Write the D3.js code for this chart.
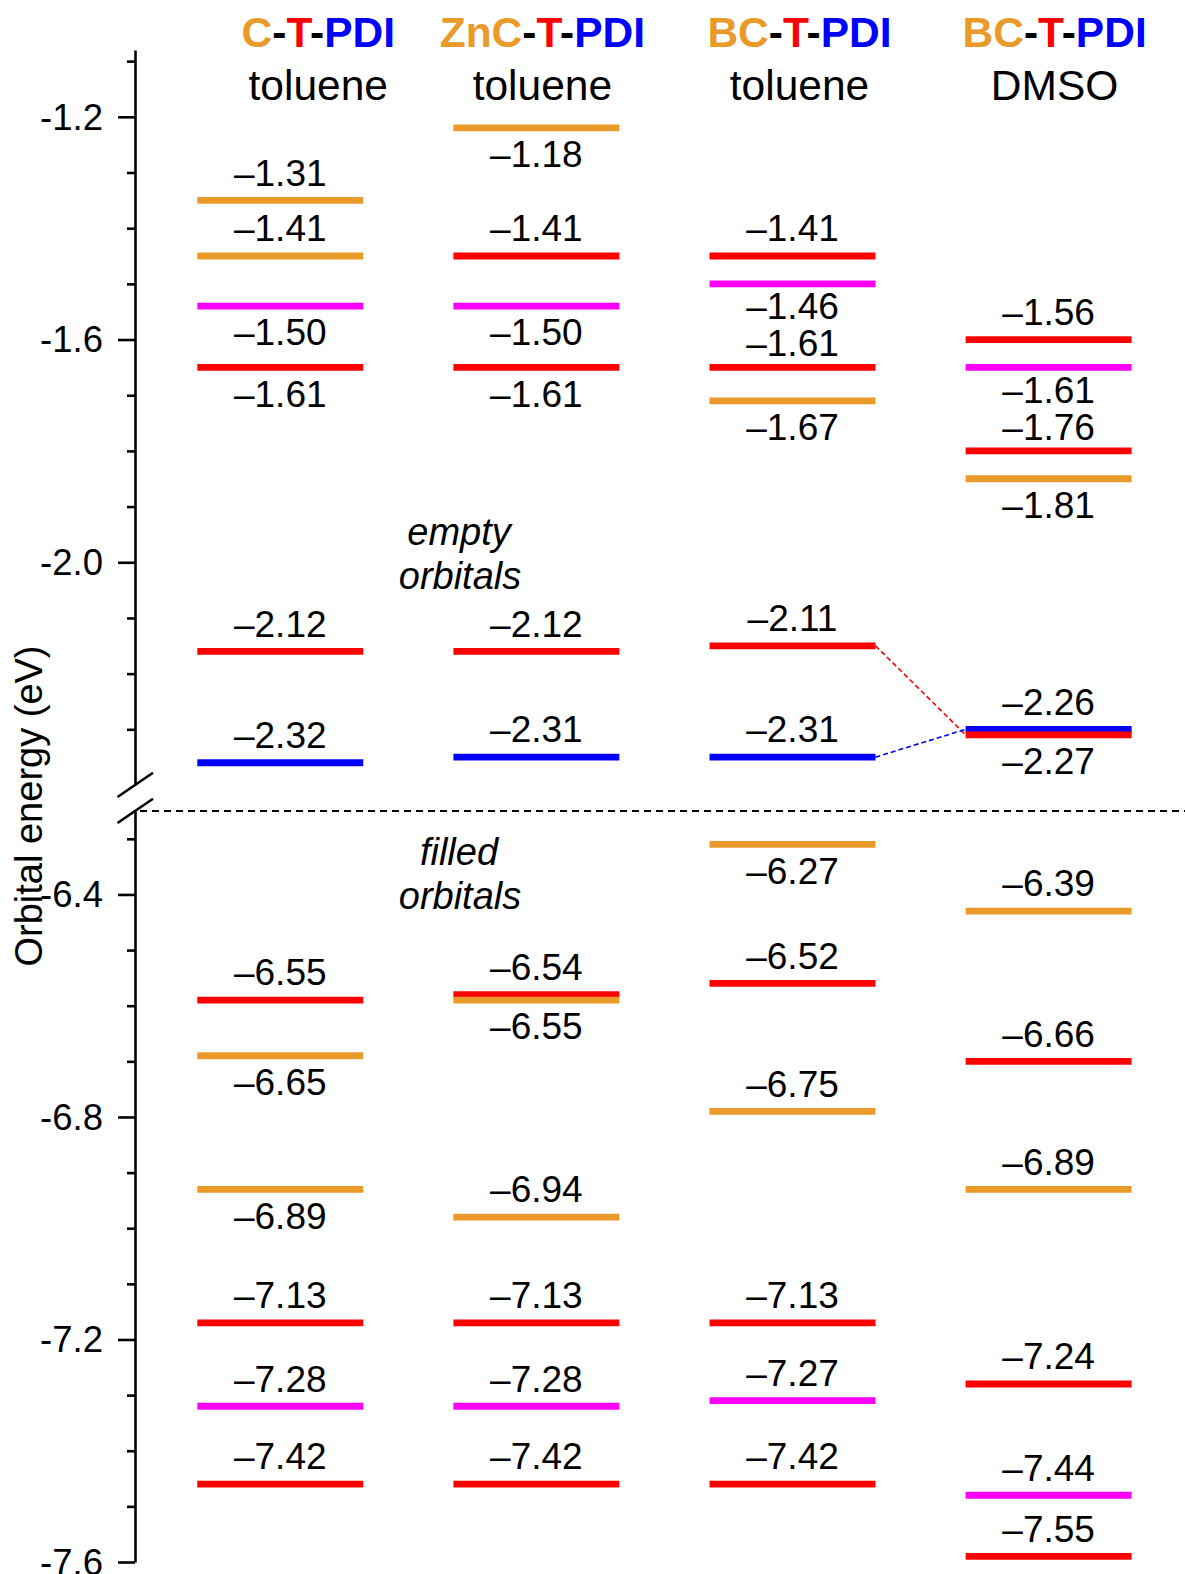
<!DOCTYPE html>
<html lang="en">
<head>
<meta charset="UTF-8">
<title>Orbital energies</title>
<script src="https://cdn.jsdelivr.net/npm/d3@7"></script>
<style type="text/css">
	body { margin: 0; background: #fff; }
	svg { font-family: 'Liberation Sans', Arial, sans-serif; }
	.axis path, .axis line { stroke: #000; stroke-width: 2.6px; fill: none; }
	.axis text { font-size: 36.5px; fill: #000; }
	.num { font-size: 37px; fill: #000; text-anchor: middle; }
	.head { font-size: 42.5px; text-anchor: middle; }
	.note { font-size: 38px; font-style: italic; text-anchor: middle; }
</style>
</head>
<body>
<script type="text/javascript">

// compounds (donor core - thiophene - PDI) and solvent
var donors = ['C', 'ZnC', 'BC', 'BC'];
var solvents = ['toluene', 'toluene', 'toluene', 'DMSO'];

// each level: [energy where the bar sits (eV), localisation, printed value, label above bar?]
var levelsCT = [
	[-1.35, 'C', '\u20131.31', 1],
	[-1.45, 'C', '\u20131.41', 1],
	[-1.54, 'M', '\u20131.50', 0],
	[-1.65, 'T', '\u20131.61', 0],
	[-2.16, 'T', '\u20132.12', 1],
	[-2.36, 'P', '\u20132.32', 1],
	[-6.59, 'T', '\u20136.55', 1],
	[-6.69, 'C', '\u20136.65', 0],
	[-6.93, 'C', '\u20136.89', 0],
	[-7.17, 'T', '\u20137.13', 1],
	[-7.32, 'M', '\u20137.28', 1],
	[-7.46, 'T', '\u20137.42', 1]
];
var levelsZnCT = [
	[-1.22, 'C', '\u20131.18', 0],
	[-1.45, 'T', '\u20131.41', 1],
	[-1.54, 'M', '\u20131.50', 0],
	[-1.65, 'T', '\u20131.61', 0],
	[-2.16, 'T', '\u20132.12', 1],
	[-2.35, 'P', '\u20132.31', 1],
	[-6.58, 'T', '\u20136.54', 1],
	[-6.59, 'C', '\u20136.55', 0],
	[-6.98, 'C', '\u20136.94', 1],
	[-7.17, 'T', '\u20137.13', 1],
	[-7.32, 'M', '\u20137.28', 1],
	[-7.46, 'T', '\u20137.42', 1]
];
var levelsBCT = [
	[-1.45, 'T', '\u20131.41', 1],
	[-1.50, 'M', '\u20131.46', 0],
	[-1.65, 'T', '\u20131.61', 1],
	[-1.71, 'C', '\u20131.67', 0],
	[-2.15, 'T', '\u20132.11', 1],
	[-2.35, 'P', '\u20132.31', 1],
	[-6.31, 'C', '\u20136.27', 0],
	[-6.56, 'T', '\u20136.52', 1],
	[-6.79, 'C', '\u20136.75', 1],
	[-7.17, 'T', '\u20137.13', 1],
	[-7.31, 'M', '\u20137.27', 1],
	[-7.46, 'T', '\u20137.42', 1]
];
var levelsBCTdmso = [
	[-1.60, 'T', '\u20131.56', 1],
	[-1.65, 'M', '\u20131.61', 0],
	[-1.80, 'T', '\u20131.76', 1],
	[-1.85, 'C', '\u20131.81', 0],
	[-2.30, 'P', '\u20132.26', 1],
	[-2.31, 'T', '\u20132.27', 0],
	[-6.43, 'C', '\u20136.39', 1],
	[-6.70, 'T', '\u20136.66', 1],
	[-6.93, 'C', '\u20136.89', 1],
	[-7.28, 'T', '\u20137.24', 1],
	[-7.48, 'M', '\u20137.44', 1],
	[-7.59, 'T', '\u20137.55', 1]
];
var levels = [levelsCT, levelsZnCT, levelsBCT, levelsBCTdmso];

// solvent shift of the LUMOs: [from column, energy, to column, energy, localisation]
var links = [
	[2, -2.15, 3, -2.31, 'T'],
	[2, -2.35, 3, -2.30, 'P']
];

// axis ticks (broken axis: upper and lower piece)
var topTicks = [-1.2, -1.6, -2.0];
var topMinor = [-1.1, -1.3, -1.4, -1.5, -1.7, -1.8, -1.9, -2.1, -2.2, -2.3];
var botTicks = [-6.4, -6.8, -7.2, -7.6];
var botMinor = [-6.3, -6.5, -6.6, -6.7, -6.9, -7.0, -7.1, -7.3, -7.4, -7.5];

var colors = { C: '#e99a2a', T: '#ff0000', P: '#0000ff', M: '#ff00ff' };
var headerShift = [38, 6, 7, 6];

var W = 1185, H = 1574, axisX = 135;

var svg = d3.select('body').append('svg')
	.attr('width', W).attr('height', H);

var yTop = d3.scaleLinear().domain([-1.08, -2.40]).range([50, 785]);
var yBot = d3.scaleLinear().domain([-6.25, -7.60]).range([811, 1562]);
var y = e => e > -4 ? yTop(e) : yBot(e);

var x = d3.scaleBand().domain(d3.range(4)).range([197.3, 1131.6]).paddingInner(0.352);

// axes
[[yTop, topTicks, topMinor], [yBot, botTicks, botMinor]].forEach(function(a) {
	svg.append('g')
		.attr('class', 'axis')
		.attr('transform', 'translate(' + axisX + ',0)')
		.call(d3.axisLeft(a[0]).tickValues(a[1]).tickSize(17).tickSizeOuter(0)
			.tickPadding(15).tickFormat(d => d.toFixed(1)));
	svg.append('g')
		.attr('class', 'axis')
		.attr('transform', 'translate(' + axisX + ',0)')
		.call(d3.axisLeft(a[0]).tickValues(a[2]).tickSize(8).tickSizeOuter(0).tickFormat(''))
		.select('.domain').remove();
});
svg.selectAll('.axis text').attr('dy', '0.34em');

// break marks
[yTop.range()[1], yBot.range()[0]].forEach(function(yy) {
	svg.append('line')
		.attr('x1', axisX - 17.5).attr('y1', yy + 12)
		.attr('x2', axisX + 18).attr('y2', yy - 12.3)
		.attr('stroke', '#000').attr('stroke-width', 2.6);
});

// HOMO/LUMO separation
svg.append('line')
	.attr('x1', axisX + 5).attr('x2', W)
	.attr('y1', yBot.range()[0]).attr('y2', yBot.range()[0])
	.attr('stroke', '#000').attr('stroke-width', 1.8)
	.attr('stroke-dasharray', '7,5');

svg.append('text')
	.attr('transform', 'translate(42,806) rotate(-90)')
	.attr('text-anchor', 'middle')
	.style('font-size', '38px')
	.text('Orbital energy (eV)');

// headers
donors.forEach(function(d, i) {
	var cx = x(i) + x.bandwidth() / 2 + headerShift[i];
	var t = svg.append('text').attr('class', 'head')
		.attr('x', cx).attr('y', 47).style('font-weight', 'bold');
	[[d, colors.C], ['-', '#000'], ['T', colors.T], ['-', '#000'], ['PDI', colors.P]]
		.forEach(p => t.append('tspan').attr('fill', p[1]).text(p[0]));
	svg.append('text').attr('class', 'head')
		.attr('x', cx).attr('y', 100).text(solvents[i]);
});

// notes
svg.append('text').attr('class', 'note').attr('x', 459).attr('y', 545).text('empty');
svg.append('text').attr('class', 'note').attr('x', 460).attr('y', 589).text('orbitals');
svg.append('text').attr('class', 'note').attr('x', 459).attr('y', 865).text('filled');
svg.append('text').attr('class', 'note').attr('x', 460).attr('y', 909).text('orbitals');

// connector lines
svg.selectAll('.link')
	.data(links)
	.enter().append('line')
	.attr('class', 'link')
	.attr('x1', d => x(d[0]) + x.bandwidth())
	.attr('y1', d => y(d[1]))
	.attr('x2', d => x(d[2]))
	.attr('y2', d => y(d[3]))
	.attr('stroke', d => colors[d[4]])
	.attr('stroke-width', 1.6)
	.attr('stroke-dasharray', '5,3');

// levels
levels.forEach(function(col, i) {
	var g = svg.append('g');
	g.selectAll('line')
		.data(col)
		.enter().append('line')
		.attr('x1', x(i)).attr('x2', x(i) + x.bandwidth())
		.attr('y1', d => y(d[0])).attr('y2', d => y(d[0]))
		.attr('stroke', d => colors[d[1]])
		.attr('stroke-width', 6.8);

	// label centres, squeezed toward their bars when two labels crowd
	var lab = col.map(d => ({ d: d, c: y(d[0]) + (d[3] ? -28 : 26) }))
		.sort((a, b) => a.c - b.c);
	for (var k = 1; k < lab.length; k++) {
		var gap = lab[k].c - lab[k - 1].c;
		if (gap < 37) {
			lab[k - 1].c -= (37 - gap) / 2;
			lab[k].c += (37 - gap) / 2;
		}
	}
	g.selectAll('text')
		.data(lab)
		.enter().append('text')
		.attr('class', 'num')
		.attr('x', x(i) + x.bandwidth() / 2)
		.attr('y', d => d.c + 13.3)
		.text(d => d.d[2]);
});

</script>
</body>
</html>
